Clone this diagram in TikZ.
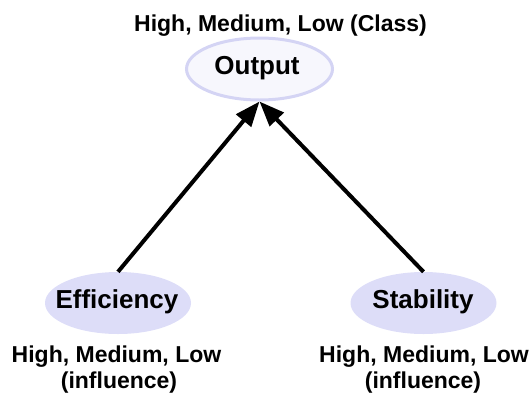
\documentclass[tikz,border=0pt]{standalone}
\usepackage{fontspec}
\setmainfont{Liberation Sans}
\usetikzlibrary{arrows.meta,shapes.geometric}

\definecolor{lavfill}{RGB}{221,221,248}
\definecolor{lavedge}{RGB}{212,212,244}
\definecolor{palefill}{RGB}{247,247,253}

\tikzset{
  oval/.style={ellipse, minimum width=146pt, minimum height=62pt, inner sep=0pt},
  outoval/.style={oval, draw=lavedge, line width=3pt, fill=palefill},
  inoval/.style={oval, fill=lavfill},
  nodetext/.style={anchor=base, font=\bfseries\fontsize{26}{30}\selectfont, inner sep=0pt},
  note/.style={anchor=base, font=\bfseries\fontsize{23}{26}\selectfont, inner sep=0pt},
  link/.style={line width=4pt, -{Triangle[length=25pt,width=19pt]}}
}

\begin{document}
\begin{tikzpicture}[x=1pt,y=-1pt]
  \useasboundingbox (0,0) rectangle (532,399);

  % output node and its class label
  \node[outoval] (out) at (259.5,69) {};
  \node[nodetext] (outtxt) at (257,74.5) {Output};
  \node[note] (cls) at (280.5,31) {High, Medium, Low (Class)};

  % input nodes
  \node[inoval] (eff) at (118,303) {};
  \node[nodetext] (efftxt) at (117,308) {Efficiency};
  \node[inoval] (stab) at (423.5,303) {};
  \node[nodetext] (stabtxt) at (423,308) {Stability};

  % influence labels under the inputs
  \node[note] (effl1) at (116.5,362) {High, Medium, Low};
  \node[note] (effl2) at (119,388) {(influence)};
  \node[note] (stabl1) at (424,362) {High, Medium, Low};
  \node[note] (stabl2) at (423,388) {(influence)};

  % edges
  \draw[link] (eff.north) -- (out.south);
  \draw[link] (stab.north) -- (out.south);
\end{tikzpicture}
\end{document}
